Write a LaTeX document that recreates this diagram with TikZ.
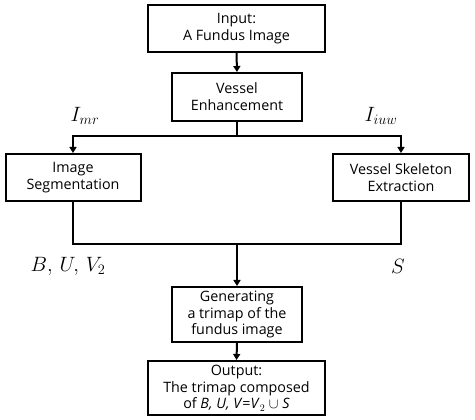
\documentclass[tikz,border=0pt]{standalone}
\usepackage{fontspec}
\setmainfont{Open Sans}
\usetikzlibrary{arrows.meta}
\tikzset{
  box/.style={draw, line width=2pt, align=center, inner sep=0pt, font=\fontsize{14.3}{16.8}\selectfont},
  conn/.style={line width=2pt},
  arr/.style={conn, -{Triangle[length=6pt,width=7pt]}},
  lab/.style={font=\fontsize{20}{23}\selectfont}
}
\begin{document}
\begin{tikzpicture}[x=1pt,y=-1pt]
\useasboundingbox (0,0) rectangle (475,420);
\node[box, minimum width=177pt, minimum height=47pt] (in) at (236.5,28.5) {Input:\\A Fundus Image};
\node[box, minimum width=130pt, minimum height=48pt] (ve) at (237,97) {Vessel\\Enhancement};
\node[box, minimum width=135pt, minimum height=47pt] (seg) at (73,177.5) {Image\\Segmentation};
\node[box, minimum width=136pt, minimum height=47pt] (skel) at (401,177.5) {Vessel Skeleton\\Extraction};
\node[box, minimum width=130pt, minimum height=55pt] (gen) at (237,314.5) {Generating\\a trimap of the\\fundus image};
\node[box, minimum width=177pt, minimum height=54pt] (out) at (236.5,388) {Output:\\The trimap composed\\of \textit{B, U, V}=\textit{V}$_2$ $\cup$ \textit{S}};
\coordinate (j1) at (237,136);
\coordinate (j1l) at (73,136);
\coordinate (j1r) at (401,136);
\coordinate (j2) at (237,244);
\coordinate (j2l) at (73,244);
\coordinate (j2r) at (401,244);
\draw[arr] (in.south) -- (ve.north);
\draw[conn] (ve.south) -- (j1);
\draw[arr] (j1) -- (j1l) -- (seg.north);
\draw[arr] (j1) -- (j1r) -- (skel.north);
\draw[conn] (seg.south) -- (j2l) -- (j2r) -- (skel.south);
\draw[arr] (j2) -- (gen.north);
\draw[arr] (gen.south) -- (out.north);
\node[lab] (l1) at (85,116) {$I_{mr}$};
\node[lab] (l2) at (381,116) {$I_{iuw}$};
\node[lab] (l3) at (68,266) {$B,\,U,\,V_2$};
\node[lab] (l4) at (398,266) {$S$};
\end{tikzpicture}
\end{document}
